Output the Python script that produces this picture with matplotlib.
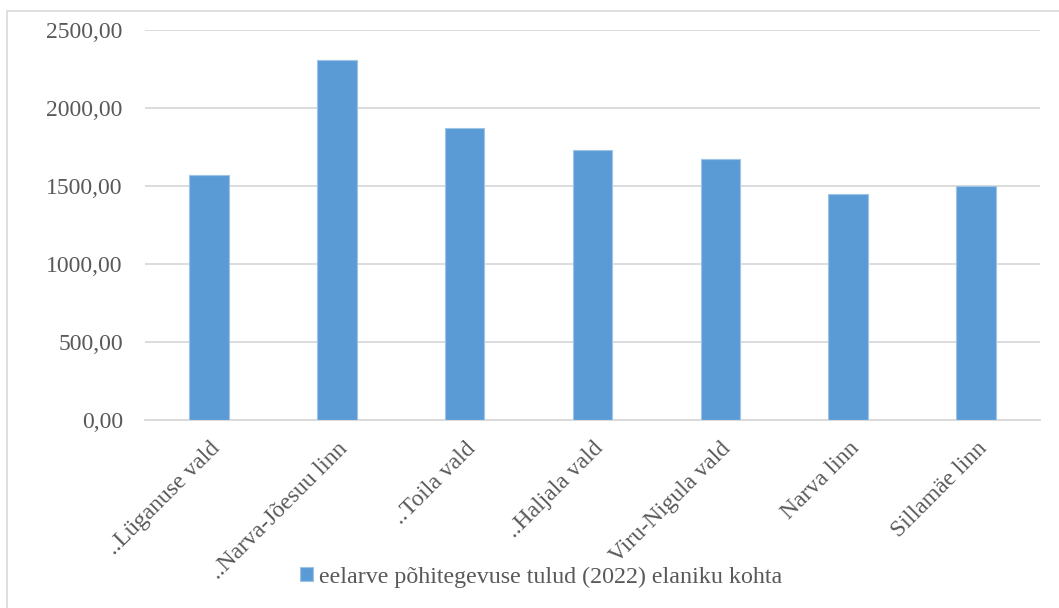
import matplotlib
matplotlib.use("Agg")
import matplotlib.pyplot as plt
from matplotlib.patches import Rectangle
from matplotlib.ticker import FuncFormatter

categories = ["..Lüganuse vald", "..Narva-Jõesuu linn", "..Toila vald", "..Haljala vald",
              "Viru-Nigula vald", "Narva linn", "Sillamäe linn"]
values = [1572, 2305, 1875, 1730, 1673, 1451, 1497]
series_name = "eelarve põhitegevuse tulud (2022) elaniku kohta"
yticks = [0, 500, 1000, 1500, 2000, 2500]

plt.rcParams['font.family'] = ['Liberation Serif', 'DejaVu Serif']

fig = plt.figure(figsize=(10.59, 6.08), dpi=100)
fig.patch.set_facecolor('white')
fig.patches.append(Rectangle((7/1059, -0.2), 1.2, 1.2 - 11/608, transform=fig.transFigure,
                             fill=False, edgecolor='#d9d9d9', linewidth=1.2, zorder=0))

ax = fig.add_axes([145/1059, 1 - 420/608, 895/1059, 390/608])
x = list(range(len(categories)))
ax.bar(x, values, width=0.31, color='#5B9BD5', edgecolor='#9dc3e6', linewidth=0.8, zorder=3,
       label=series_name)
ax.set_xlim(-0.5, len(categories) - 0.5)
ax.set_ylim(0, 2500)
ax.set_yticks(yticks)
ax.yaxis.set_major_formatter(FuncFormatter(lambda v, p: f"{v:.2f}".replace('.', ',')))
ax.grid(axis='y', color='#d9d9d9', linewidth=1.3, zorder=0)
for s in ['top', 'right', 'left']:
    ax.spines[s].set_visible(False)
ax.spines['bottom'].set_color('#d9d9d9')
ax.spines['bottom'].set_linewidth(1.3)
ax.tick_params(axis='y', length=0, pad=16, labelsize=17, labelcolor='#595959')
ax.tick_params(axis='x', length=0, pad=13, labelsize=17, labelcolor='#595959')
ax.set_xticks(x)
ax.set_xticklabels(categories, rotation=45, ha='right', rotation_mode='anchor')

leg = fig.legend(loc='center', bbox_to_anchor=(541/1059, 1 - 577/608), frameon=False,
                 fontsize=17.3, handlelength=0.55, handleheight=0.55, handletextpad=0.25)
for t in leg.get_texts():
    t.set_color('#595959')

fig.savefig('out.png', dpi=100)
